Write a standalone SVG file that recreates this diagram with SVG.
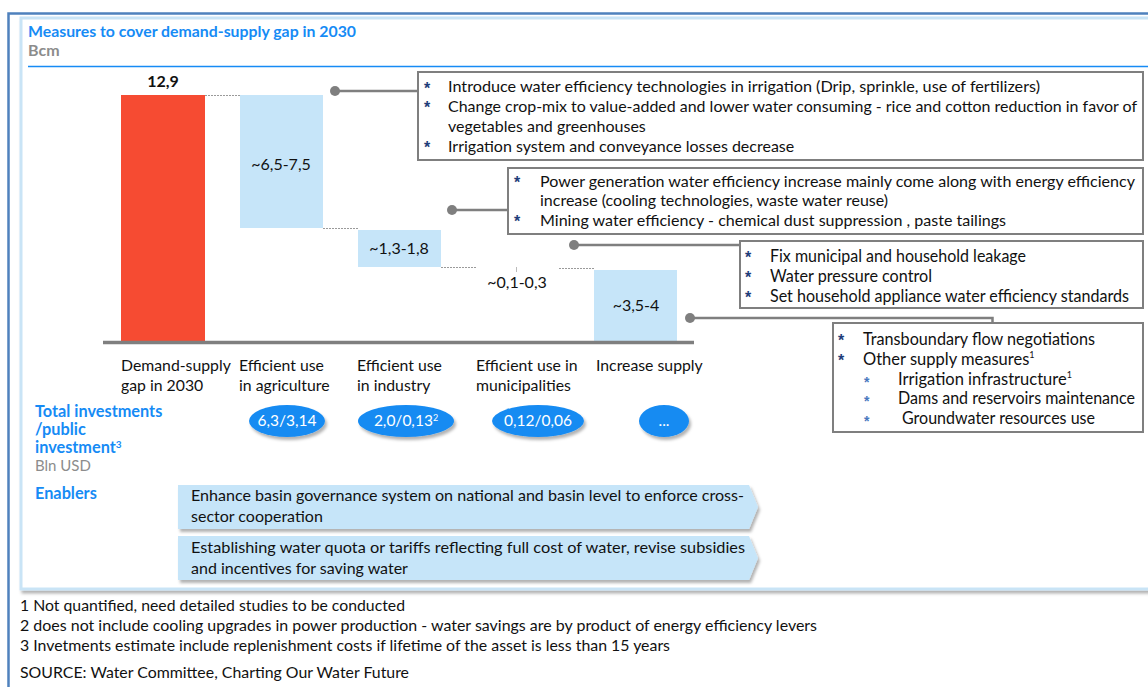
<svg xmlns="http://www.w3.org/2000/svg" width="1148" height="687" viewBox="0 0 1148 687">
<style>
text{font-family:Lato,"Liberation Sans",sans-serif;fill:#111}
.t14{font-size:16px}
.t15{font-size:16px}
.t16{font-size:16.5px}
.blue{fill:#168BF5;font-weight:bold}
.gray{fill:#8C8C8C}
.ast{font-family:"Liberation Sans",Arial,sans-serif;font-size:16px;font-weight:bold;fill:#1F3E7A}
.ast2{font-family:"Liberation Sans",Arial,sans-serif;font-size:14px;font-weight:bold;fill:#4A78BE}
.box{fill:#fff;stroke:#7F7F7F;stroke-width:2}
.con{fill:none;stroke:#7F7F7F;stroke-width:2.5}
.dot{fill:#7F7F7F}
.bar{fill:#C6E5F9}
.dash{stroke:#9A9A9A;stroke-width:1;stroke-dasharray:2,1}
.oval{fill:#168BF2}
.ovt{fill:#fff;font-size:15.5px;text-anchor:middle}
.chev{fill:#C6E5F9}
.lbl{font-size:16px;text-anchor:middle}
.cat{font-size:15.8px}
</style>
<defs>
<filter id="sh" x="-10%" y="-10%" width="130%" height="150%">
<feDropShadow dx="2" dy="3" stdDeviation="1.5" flood-color="#000" flood-opacity="0.3"/>
</filter>
</defs>
<rect width="1148" height="687" fill="#fff"/>
<!-- outer frame -->
<path d="M8.5,687 V13.5 H1148" fill="none" stroke="#4F81BD" stroke-width="2.5"/>
<!-- inner panel -->
<rect x="21" y="18" width="1140" height="571" fill="#fff" stroke="#C9E4F6" stroke-width="3" filter="url(#sh)"/>
<g id="title">
<text x="28" y="37" class="blue" font-size="16" textLength="328" lengthAdjust="spacingAndGlyphs">Measures to cover demand-supply gap in 2030</text>
<text x="28" y="56" font-size="16" font-weight="bold" class="gray">Bcm</text>
<line x1="28" y1="66.5" x2="1148" y2="66.5" stroke="#168BF5" stroke-width="1.5"/>
</g>
<!-- bars -->
<g id="bars">
<rect x="121" y="95" width="84" height="247" fill="#F64B32"/>
<text x="163" y="87" class="lbl" font-weight="bold" font-size="15.5">12,9</text>
<rect class="bar" x="240" y="95" width="83" height="133"/>
<text x="281" y="170" class="lbl">~6,5-7,5</text>
<rect class="bar" x="358" y="230" width="83" height="37"/>
<text x="399" y="254" class="lbl">~1,3-1,8</text>
<line x1="516.5" y1="267" x2="516.5" y2="272" stroke="#BBBBBB" stroke-width="1"/>
<text x="517" y="288" class="lbl">~0,1-0,3</text>
<rect class="bar" x="594" y="270" width="83" height="72"/>
<text x="636" y="311" class="lbl">~3,5-4</text>
<line class="dash" x1="205" y1="95.5" x2="240" y2="95.5"/>
<line class="dash" x1="323" y1="228.5" x2="358" y2="228.5"/>
<line class="dash" x1="441" y1="267.5" x2="476" y2="267.5"/>
<line class="dash" x1="559" y1="268.5" x2="594" y2="268.5"/>
<line x1="103" y1="342.5" x2="694" y2="342.5" stroke="#7F7F7F" stroke-width="3.5"/>
</g>
<!-- connectors -->
<g id="connectors">
<path class="con" d="M335,91 H418"/>
<circle class="dot" cx="335" cy="91" r="5"/>
<path class="con" d="M452,210 H508"/>
<circle class="dot" cx="452" cy="210" r="5"/>
<path class="con" d="M574,245 H740"/>
<circle class="dot" cx="574" cy="245" r="5"/>
<path class="con" d="M690,318 H992.5 V323"/>
<circle class="dot" cx="690" cy="318" r="5"/>
</g>
<g id="box1">
<rect class="box" x="418" y="72" width="725" height="88"/>
<text x="424" y="94" class="ast">*</text>
<text x="424" y="113" class="ast">*</text>
<text x="424" y="153" class="ast">*</text>
<text x="448" y="92" class="t14" textLength="592" lengthAdjust="spacingAndGlyphs">Introduce water efficiency technologies in irrigation  (Drip, sprinkle, use of fertilizers)</text>
<text x="448" y="111.5" class="t14" textLength="689" lengthAdjust="spacingAndGlyphs">Change crop-mix to value-added and lower water consuming - rice and cotton reduction in favor of</text>
<text x="448" y="131.5" class="t14">vegetables and greenhouses</text>
<text x="448" y="151.5" class="t14">Irrigation system and conveyance losses decrease</text>
</g>
<g id="box2">
<rect class="box" x="508" y="168" width="635" height="66"/>
<text x="514" y="188" class="ast">*</text>
<text x="514" y="227" class="ast">*</text>
<text x="540" y="186.5" class="t14" textLength="595" lengthAdjust="spacingAndGlyphs">Power generation water efficiency increase mainly come along with energy efficiency</text>
<text x="540" y="206" class="t14">increase (cooling technologies, waste water reuse)</text>
<text x="540" y="225.5" class="t14" textLength="466" lengthAdjust="spacingAndGlyphs">Mining  water efficiency - chemical dust suppression , paste tailings</text>
</g>
<g id="box3">
<rect class="box" x="740" y="241" width="403" height="67"/>
<text x="745" y="263" class="ast">*</text>
<text x="745" y="283" class="ast">*</text>
<text x="745" y="303" class="ast">*</text>
<text x="770" y="261.5" class="t16" textLength="256" lengthAdjust="spacingAndGlyphs">Fix municipal and household leakage</text>
<text x="770" y="281.5" class="t16" textLength="162" lengthAdjust="spacingAndGlyphs">Water pressure control</text>
<text x="770" y="301.5" class="t16" textLength="359" lengthAdjust="spacingAndGlyphs">Set household appliance water efficiency standards</text>
</g>
<g id="box4">
<rect class="box" x="833" y="323" width="310" height="109"/>
<text x="838" y="346" class="ast">*</text>
<text x="838" y="366" class="ast">*</text>
<text x="864" y="387" class="ast2">*</text>
<text x="864" y="406" class="ast2">*</text>
<text x="864" y="426" class="ast2">*</text>
<text x="863" y="344.5" class="t16" textLength="232" lengthAdjust="spacingAndGlyphs">Transboundary flow negotiations</text>
<text x="863" y="364.5" class="t16">Other supply measures<tspan font-size="9" dy="-7">1</tspan></text>
<text x="898" y="384.5" class="t16">Irrigation infrastructure<tspan font-size="9" dy="-7">1</tspan></text>
<text x="898" y="403.5" class="t16" textLength="237" lengthAdjust="spacingAndGlyphs">Dams and reservoirs maintenance</text>
<text x="902" y="423.5" class="t16" textLength="193" lengthAdjust="spacingAndGlyphs">Groundwater resources use</text>
</g>
<g id="categories">
<text x="121" y="371" class="cat">Demand-supply</text>
<text x="121" y="391" class="cat">gap in 2030</text>
<text x="239" y="371" class="cat">Efficient use</text>
<text x="239" y="391" class="cat">in agriculture</text>
<text x="357" y="371" class="cat">Efficient use</text>
<text x="357" y="391" class="cat">in industry</text>
<text x="476" y="371" class="cat">Efficient use in</text>
<text x="476" y="391" class="cat">municipalities</text>
<text x="596" y="371" class="cat">Increase supply</text>
</g>
<g id="investments">
<text x="35" y="417" class="blue" font-size="16.3">Total investments</text>
<text x="35" y="435" class="blue" font-size="16.3">/public</text>
<text x="35" y="453" class="blue" font-size="16.3">investment<tspan font-size="10" dy="-5">3</tspan></text>
<text x="35" y="471" class="gray" font-size="15">Bln USD</text>
<g filter="url(#sh)">
<ellipse class="oval" cx="287" cy="421" rx="38" ry="16"/>
<ellipse class="oval" cx="406" cy="421" rx="48" ry="16"/>
<ellipse class="oval" cx="538" cy="421" rx="46" ry="16"/>
<ellipse class="oval" cx="664" cy="421" rx="25" ry="16"/>
</g>
<text x="287" y="426" class="ovt">6,3/3,14</text>
<text x="406" y="426" class="ovt">2,0/0,13<tspan font-size="9" dy="-5">2</tspan></text>
<text x="538" y="426" class="ovt">0,12/0,06</text>
<text x="664" y="426" class="ovt">...</text>
</g>
<g id="enablers">
<text x="35" y="499" class="blue" font-size="16.3">Enablers</text>
<path class="chev" filter="url(#sh)" d="M178,485 H749 L758,507 L749,529 H178 Z"/>
<path class="chev" filter="url(#sh)" d="M178,536 H749 L758,558 L749,580 H178 Z"/>
<text x="191" y="501" class="t15" textLength="553" lengthAdjust="spacingAndGlyphs">Enhance basin governance system on national and basin level  to enforce cross-</text>
<text x="191" y="522" class="t15">sector cooperation</text>
<text x="191" y="553" class="t15" textLength="554" lengthAdjust="spacingAndGlyphs">Establishing water quota or tariffs reflecting full cost of  water,  revise subsidies</text>
<text x="191" y="574" class="t15">and incentives for saving water</text>
</g>
<g id="footnotes">
<text x="20" y="611" class="t15" textLength="385" lengthAdjust="spacingAndGlyphs">1 Not quantified, need detailed studies to be conducted</text>
<text x="20" y="631" class="t15" textLength="797" lengthAdjust="spacingAndGlyphs">2 does not include cooling upgrades in power production - water savings are by product of energy efficiency levers</text>
<text x="20" y="651" class="t15" textLength="650" lengthAdjust="spacingAndGlyphs">3 Invetments estimate include replenishment costs if lifetime of the asset is less than 15 years</text>
<text x="20" y="678" class="t15" textLength="389" lengthAdjust="spacingAndGlyphs">SOURCE:  Water Committee, Charting Our Water Future</text>
</g>
</svg>
